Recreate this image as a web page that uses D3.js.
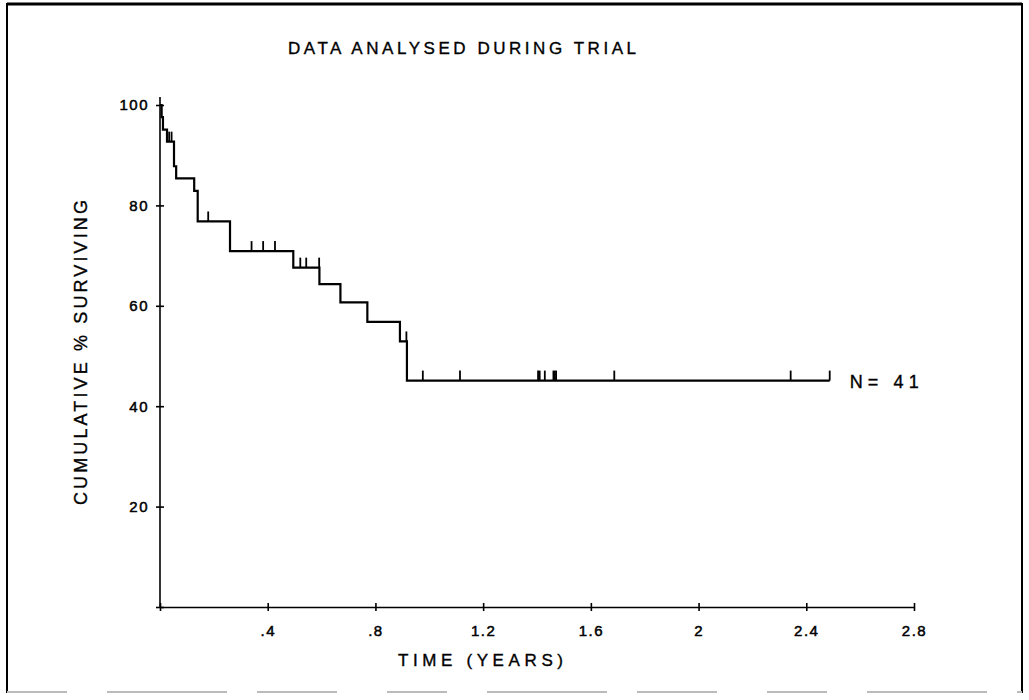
<!DOCTYPE html>
<html>
<head>
<meta charset="utf-8">
<script src="https://cdn.jsdelivr.net/npm/d3@7"></script>
<style>
  html, body { margin: 0; padding: 0; background: #fff; }
  svg { display: block; }
  text { font-family: "Liberation Sans", Arial, sans-serif; fill: #000; stroke: #000; stroke-width: 0.35; }
  .axis path, .axis line { stroke: #000; stroke-width: 1.6; }
  .axis text { font-size: 15px; letter-spacing: 1.5px; stroke-width: 0.5; }
</style>
</head>
<body>
<svg id="chart" width="1029" height="700"></svg>
<script>
// Kaplan-Meier survival: step times (years) and % surviving after each step
var stepTimes = [0, 0.006, 0.011, 0.026, 0.052, 0.060, 0.127, 0.140, 0.260, 0.495, 0.592, 0.670, 0.770, 0.891, 0.917];
var stepSurv  = [100, 97.6, 95.1, 92.7, 87.8, 85.4, 82.9, 76.8, 70.9, 67.6, 64.3, 60.7, 56.8, 52.9, 45.1];
var lastFollowUp = 2.487;
// censored observations (years)
var censorTimes = [0.034, 0.043, 0.179, 0.340, 0.383, 0.427, 0.521, 0.543, 0.591,
                   0.915, 0.976, 1.114, 1.404, 1.410, 1.429, 1.461, 1.466, 1.471, 1.687, 2.342, 2.487];
var xTicks = [0.4, 0.8, 1.2, 1.6, 2, 2.4, 2.8];
var xTickLabels = [".4", ".8", "1.2", "1.6", "2", "2.4", "2.8"];
var yTicks = [20, 40, 60, 80, 100];
var nPatients = 41;

(function () {
  "use strict";
  var svg = d3.select("#chart");
  var x = d3.scaleLinear().domain([0, 2.8]).range([160, 914]);
  var y = d3.scaleLinear().domain([0, 100]).range([607, 105]);

  // page frame
  svg.append("line").attr("x1", 7).attr("x2", 1022).attr("y1", 4).attr("y2", 4).attr("stroke", "#000").attr("stroke-width", 3);
  svg.append("line").attr("x1", 7).attr("x2", 7).attr("y1", 3).attr("y2", 693).attr("stroke", "#000").attr("stroke-width", 2);
  svg.append("line").attr("x1", 1022).attr("x2", 1022).attr("y1", 3).attr("y2", 693).attr("stroke", "#000").attr("stroke-width", 2);
  svg.append("line").attr("x1", 7).attr("x2", 1022).attr("y1", 692).attr("y2", 692)
    .attr("stroke", "#bbb").attr("stroke-width", 2).attr("stroke-dasharray", "60 40 120 30 80 50");

  // x axis (ticks crossing the line)
  var gx = svg.append("g").attr("class", "axis").attr("transform", "translate(0," + y(0) + ")");
  gx.call(d3.axisBottom(x).tickValues([0].concat(xTicks)).tickSizeInner(4).tickSizeOuter(0).tickPadding(14)
    .tickFormat(function (d) { var i = xTicks.indexOf(d); return i < 0 ? "" : xTickLabels[i]; }));
  gx.append("g").call(d3.axisTop(x).tickValues([0].concat(xTicks)).tickSizeInner(4).tickSizeOuter(0).tickFormat(""))
    .select(".domain").remove();
  gx.selectAll("text").attr("fill", "#000");

  // y axis
  var gy = svg.append("g").attr("class", "axis").attr("transform", "translate(" + x(0) + ",0)");
  gy.call(d3.axisLeft(y).tickValues([0].concat(yTicks)).tickSizeInner(4).tickSizeOuter(0).tickPadding(7)
    .tickFormat(function (d) { return d === 0 ? "" : d; }));
  gy.append("g").call(d3.axisRight(y).tickValues([0].concat(yTicks)).tickSizeInner(4).tickSizeOuter(0).tickFormat(""))
    .select(".domain").remove();
  gy.select(".domain").remove();
  gy.append("line").attr("x1", 0).attr("x2", 0).attr("y1", y(0)).attr("y2", y(101.6))
    .attr("stroke", "#000").attr("stroke-width", 1.6);
  gy.selectAll("text").attr("fill", "#000");

  // survival curve
  var pts = stepTimes.map(function (t, i) { return [t, stepSurv[i]]; });
  pts.push([lastFollowUp, stepSurv[stepSurv.length - 1]]);
  var line = d3.line().curve(d3.curveStepAfter)
    .x(function (d) { return x(d[0]); }).y(function (d) { return y(d[1]); });
  svg.append("path").datum(pts).attr("d", line)
    .attr("fill", "none").attr("stroke", "#000").attr("stroke-width", 2.2);

  // censor marks
  function survAt(t) {
    var s = stepSurv[0];
    for (var i = 0; i < stepTimes.length; i++) if (stepTimes[i] <= t) s = stepSurv[i];
    return s;
  }
  svg.selectAll("line.cens").data(censorTimes).enter().append("line").attr("class", "cens")
    .attr("x1", function (d) { return x(d); }).attr("x2", function (d) { return x(d); })
    .attr("y1", function (d) { return y(survAt(d)); })
    .attr("y2", function (d) { return y(survAt(d)) - 10; })
    .attr("stroke", "#000").attr("stroke-width", 1.8);

  // N label
  svg.append("text").attr("x", x(lastFollowUp) + 20).attr("y", y(stepSurv[stepSurv.length - 1]) + 7)
    .attr("font-size", 18).attr("textLength", 69).attr("lengthAdjust", "spacing").attr("stroke-width", 0.6)
    .text("N= " + nPatients);

  // titles
  svg.append("text").attr("x", 288).attr("y", 54).attr("font-size", 17)
    .attr("textLength", 348).attr("lengthAdjust", "spacing").text("DATA ANALYSED DURING TRIAL");
  svg.append("text").attr("x", 398).attr("y", 666).attr("font-size", 17)
    .attr("textLength", 165).attr("lengthAdjust", "spacing").text("TIME (YEARS)");
  svg.append("text").attr("transform", "translate(87,505) rotate(-90)").attr("font-size", 18)
    .attr("textLength", 305).attr("lengthAdjust", "spacing").text("CUMULATIVE % SURVIVING");
})();
</script>
</body>
</html>
